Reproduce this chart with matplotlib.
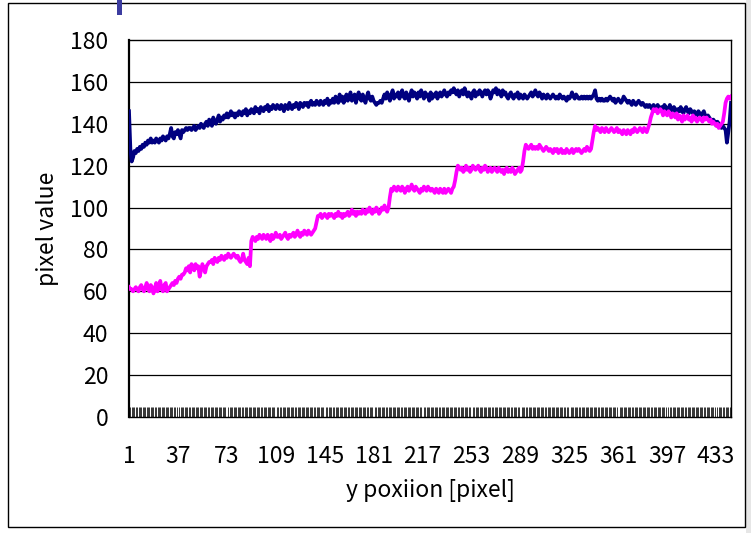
import matplotlib
matplotlib.use("Agg")
import matplotlib.pyplot as plt
from matplotlib.patches import Rectangle
import numpy as np

plt.rcParams['font.family'] = ['Noto Sans CJK JP', 'DejaVu Sans']

navy = [
146,128,122,124,127,126,128,127,129,128,
130,129,131,130,132,131,133,131,132,131,
133,132,131,133,132,134,133,132,134,133,
135,138,134,133,136,135,137,135,133,137,
136,137,138,137,138,138,137,138,139,137,
138,139,138,140,139,138,140,141,139,142,
141,139,143,141,140,142,144,141,143,142,
144,143,145,143,144,146,144,145,143,145,
144,146,145,144,146,145,147,144,146,145,
147,146,145,148,146,147,145,148,147,146,
148,147,149,146,148,147,149,148,147,149,
148,147,149,148,146,149,148,147,150,148,
147,149,148,150,149,147,150,149,148,150,
149,150,148,150,151,149,150,149,151,150,
149,151,150,149,151,150,152,149,151,150,
152,150,153,151,150,154,151,153,150,152,
154,151,153,155,151,152,154,150,153,155,
152,151,154,152,150,153,155,152,151,153,
151,150,149,150,150,151,150,152,154,152,
155,153,151,154,156,152,154,153,155,152,
154,156,153,152,155,153,151,154,156,153,
155,154,152,155,153,156,154,152,155,153,
154,151,155,152,154,153,155,152,154,155,
153,154,156,154,153,155,154,156,155,157,
155,154,156,153,155,156,154,157,155,153,
155,154,152,155,156,153,155,154,156,155,
153,155,156,154,156,155,152,154,156,155,
157,154,156,155,153,156,154,155,153,152,
154,155,153,152,154,153,155,152,154,153,
152,154,153,152,153,154,155,153,154,156,
154,153,155,154,152,154,153,152,154,153,
152,153,154,153,152,153,152,154,153,152,
153,152,151,153,152,153,155,153,152,154,
153,152,152,153,152,153,152,153,152,153,
152,153,154,156,152,151,152,151,152,151,
151,152,151,152,153,152,151,152,150,151,
152,151,150,151,153,152,151,150,151,150,
149,151,150,149,150,151,150,149,150,149,
148,149,148,149,148,147,149,148,147,149,
148,147,148,147,149,148,146,147,149,147,
146,148,147,145,147,146,148,146,145,147,
148,146,145,147,146,145,146,145,144,146,
145,144,145,146,144,143,144,143,142,141,
142,141,140,141,140,139,138,139,138,137,
131,136,141,150]

magenta = [
62,61,61,60,61,62,61,60,62,63,
61,60,62,64,61,60,63,62,59,61,
64,60,62,65,61,60,63,64,60,61,
62,63,64,63,65,64,66,67,66,68,
68,69,71,70,72,69,73,72,70,73,
71,72,67,70,73,71,69,72,73,74,
74,75,73,76,75,74,76,75,77,76,
75,77,76,78,77,76,77,78,77,76,
77,75,74,75,78,75,74,73,76,72,
84,86,85,84,86,85,87,86,85,87,
86,85,87,86,84,87,85,86,88,86,
86,87,85,86,87,88,86,85,87,86,
87,88,86,87,89,87,86,88,87,89,
88,87,89,88,87,88,89,90,93,96,
96,97,95,96,97,96,95,97,96,97,
96,95,97,96,98,96,97,95,97,96,
97,98,96,97,99,97,98,96,98,97,
98,97,99,98,97,99,98,100,98,97,
99,98,100,99,97,98,100,99,101,99,
98,100,105,109,108,110,109,108,110,109,
108,110,109,107,109,110,108,109,111,109,
108,110,109,108,107,109,108,110,109,108,
110,109,108,109,108,107,109,108,107,109,
108,107,109,107,108,109,108,107,109,110,
113,117,120,119,118,119,117,118,120,118,
119,117,118,120,119,118,119,120,118,117,
119,118,120,119,117,118,119,117,118,119,
118,117,119,118,117,118,116,118,119,117,
118,117,119,118,116,117,118,119,117,118,
122,127,130,129,128,129,130,128,129,128,
129,128,130,129,128,127,128,129,128,127,
128,127,126,128,127,128,126,127,128,126,
127,126,128,127,126,127,128,126,127,128,
127,128,127,126,127,128,127,129,128,127,
128,132,136,139,137,138,137,136,138,137,
136,138,137,136,137,138,137,136,137,138,
136,137,136,135,137,136,135,137,136,135,
137,136,138,137,136,137,138,137,136,138,
137,136,138,140,143,145,147,146,147,145,
146,147,146,144,146,145,144,146,145,143,
145,144,143,145,142,144,143,141,144,142,
143,144,142,143,141,144,142,143,141,142,
143,142,141,143,142,143,142,141,142,140,
141,140,139,140,138,139,140,141,145,150,
152,153,152,153]

y_ticks = [0, 20, 40, 60, 80, 100, 120, 140, 160, 180]
x_label_step = 36
x_title = "y poxiion [pixel]"
y_title = "pixel value"

W, H = 751, 533
fig = plt.figure(figsize=(W/100, H/100), dpi=100)

# outer frame, side strip and small top bar
fig.patches.append(Rectangle((746/W, 0), 5/W, 1, transform=fig.transFigure,
                             facecolor='#e6e6e6', edgecolor='none'))
fig.patches.append(Rectangle((8/W, 1-527/H), (745-8)/W, (527-3)/H, transform=fig.transFigure,
                             fill=False, edgecolor='black', linewidth=1.0))
fig.patches.append(Rectangle((117/W, 1-15/H), 5/W, 15/H, transform=fig.transFigure,
                             facecolor='#3c3ca0', edgecolor='none'))

L, R, T, B = 129, 731, 40, 417
ax = fig.add_axes([L/W, 1-B/H, (R-L)/W, (B-T)/H])

n = len(navy)
x = np.arange(n)
ax.plot(x, navy, color='#000080', linewidth=2.7, solid_joinstyle='round', zorder=3)
ax.plot(x, magenta, color='#ff00ff', linewidth=2.7, solid_joinstyle='round', zorder=3)

ax.set_xlim(0, n - 1)
ax.set_ylim(0, 180)
ax.set_yticks(y_ticks)
ax.set_yticklabels([str(v) for v in y_ticks], fontsize=16.5)
for v in y_ticks[1:-1]:
    ax.axhline(v, color='black', linewidth=0.9, zorder=1)

xt = list(range(0, n, x_label_step))
ax.set_xticks(xt)
ax.set_xticklabels([str(i + 1) for i in xt], fontsize=16.5)
ax.set_xticks(np.arange(n), minor=True)
ax.tick_params(axis='x', which='major', length=0, pad=20)
ax.tick_params(axis='x', which='minor', direction='in', length=7.5, width=0.7, color='#333333')
ax.tick_params(axis='y', length=0, pad=15)

for s in ax.spines.values():
    s.set_color('black')
    s.set_linewidth(1.0)
ax.spines['left'].set_linewidth(1.6)

ax.set_xlabel(x_title, fontsize=16.5, labelpad=8)
ax.set_ylabel(y_title, fontsize=16.5, labelpad=8)

fig.savefig('out.png', dpi=100)
